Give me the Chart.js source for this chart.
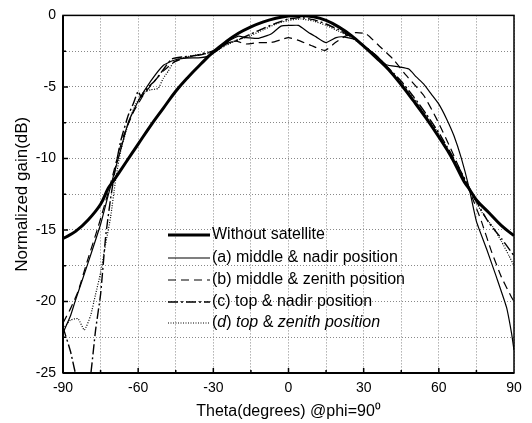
<!DOCTYPE html>
<html>
<head>
<meta charset="utf-8">
<script src="https://cdn.jsdelivr.net/npm/chart.js@4.4.0/dist/chart.umd.min.js"></script>
<style>
body { margin: 0; background: #fff; }
</style>
</head>
<body>
<canvas id="myChart" width="532" height="423"></canvas>
<script>
var seriesNames = [
    'Without satellite',
    '(a) middle & nadir position',
    '(b) middle & zenith position',
    '(c) top & nadir position',
    '(d) top & zenith position'
];

var thetaRef = [-90, -85, -80, -75, -72, -70, -65, -60, -55, -50, -45, -40, -35, -30, -25, -20, -15, -10, -5, 0, 5, 10, 15, 20, 25, 30, 35, 40, 45, 50, 55, 60, 65, 70, 72, 75, 80, 85, 90];
var gainRef = [-15.6, -15.1, -14.3, -13.2, -12.1, -11.6, -10.3, -9.0, -7.7, -6.5, -5.3, -4.3, -3.4, -2.55, -1.85, -1.25, -0.8, -0.45, -0.2, -0.05, 0, -0.1, -0.35, -0.8, -1.4, -2.15, -2.95, -3.8, -4.85, -6.0, -7.2, -8.5, -9.9, -11.6, -12.1, -12.9, -13.8, -14.7, -15.4];

var thetaA = [-90, -87, -85, -80, -75, -72, -70, -67, -64, -60, -55, -50, -46, -42, -35, -32, -28, -24, -20, -17, -12, -7, -3, 1, 4, 8, 11, 15, 19, 22, 27, 30, 35, 39, 44, 48, 51, 54, 57, 60, 63, 66, 69, 72, 75, 79, 83, 87, 89, 90];
var gainA = [-22.2, -21.0, -19.9, -17.3, -14.6, -12.6, -11.3, -9.4, -7.5, -6.0, -4.6, -3.5, -3.15, -3.0, -2.95, -2.85, -2.4, -1.8, -1.45, -1.55, -1.6, -1.3, -0.75, -0.7, -0.7, -1.2, -1.5, -1.9, -1.55, -1.5, -1.7, -2.1, -2.8, -3.45, -3.6, -3.75, -4.3, -4.8, -5.5, -6.2, -7.2, -8.4, -10.0, -12.0, -14.4, -16.3, -18.3, -20.4, -22.2, -23.4];

var thetaB = [-90, -87, -84, -80, -76, -72, -69, -66, -62, -58, -54, -50, -46, -42, -36, -32, -28, -24, -21, -17, -12, -7, -3, 0, 4, 9, 14.6, 18.7, 22.7, 26.8, 31, 36, 41.7, 47, 54, 59, 64.7, 70, 72.8, 77, 81, 85, 89, 90];
var gainB = [-21.5, -20.5, -19.3, -17.0, -14.8, -12.4, -10.4, -8.5, -6.8, -5.6, -4.7, -3.9, -3.3, -3.0, -2.8, -2.6, -2.3, -1.9, -1.8, -2.0, -1.9, -1.9, -1.7, -1.55, -1.75, -2.1, -2.45, -1.9, -1.45, -1.2, -1.3, -2.1, -3.05, -4.2, -5.6, -7.2, -9.3, -11.4, -12.5, -14.4, -16.5, -18.3, -19.7, -20.0];

var thetaC = [-90, -87, -84, -81, -79, -77, -75, -73, -71, -69, -67, -64, -62, -60, -58.8, -56, -53.5, -50, -46.7, -42, -37, -33, -29, -25, -20, -15, -10, -5, 0, 5, 10, 15, 20, 25, 30, 35, 40, 45, 50, 55, 60, 65, 70, 72, 75, 80, 85, 90];
var gainC = [-21.8, -23.5, -25.8, -27.0, -25.2, -22.0, -19.5, -15.5, -12.8, -10.6, -8.8, -7.0, -6.2, -5.3, -5.7, -5.0, -4.6, -3.8, -3.05, -2.9, -2.8, -2.6, -2.5, -2.0, -1.7, -1.3, -0.9, -0.55, -0.25, -0.15, -0.3, -0.6, -1.0, -1.5, -2.1, -2.8, -3.7, -4.6, -5.7, -6.9, -8.2, -9.7, -11.3, -12.0, -13.0, -14.5, -15.6, -16.8];

var thetaD = [-90, -87, -84, -81.5, -79, -77, -75, -73, -71, -69, -67, -64, -61, -58, -55, -52, -50, -48, -46, -43, -38, -34, -30, -25, -20, -15, -10, -5, 0, 5, 10, 15, 20, 25, 30, 35, 40, 45, 50, 55, 60, 65, 70, 72, 75, 78, 81.6, 85, 88, 90];
var gainD = [-21.9, -21.3, -21.2, -22.0, -21.0, -19.5, -18.0, -16.0, -14.1, -11.5, -9.5, -7.6, -6.2, -5.4, -5.2, -5.1, -4.4, -3.9, -3.3, -3.0, -2.8, -2.7, -2.6, -2.1, -1.7, -1.4, -1.0, -0.6, -0.35, -0.25, -0.4, -0.7, -1.1, -1.55, -2.15, -2.85, -3.75, -4.7, -5.8, -7.0, -8.3, -9.8, -11.4, -12.0, -13.1, -14.0, -14.8, -15.8, -16.8, -17.5];

var xTicks = [-90, -60, -30, 0, 30, 60, 90];
var yTicks = [-25, -20, -15, -10, -5, 0];

var lineWidths = [3, 1.2, 1.2, 1.4, 1.2];
var lineDashes = [[], [], [8, 5], [10, 3, 2, 3], [1, 1.5]];

function pairs(xs, ys) {
    return xs.map(function (t, i) { return {x: t, y: ys[i]}; });
}

var allData = [
    pairs(thetaRef, gainRef),
    pairs(thetaA, gainA),
    pairs(thetaB, gainB),
    pairs(thetaC, gainC),
    pairs(thetaD, gainD)
];

var datasets = allData.map(function (d, i) {
    return {
        label: seriesNames[i],
        data: d,
        borderColor: '#000',
        borderWidth: lineWidths[i],
        borderDash: lineDashes[i],
        pointRadius: 0,
        fill: false,
        tension: i === 0 ? 0.4 : 0.15
    };
});

// legend drawn inside the plot, with line samples and partly italic text
var legendInside = {
    id: 'legendInside',
    afterDraw: function (chart) {
        var ctx = chart.ctx;
        var rows = [235, 258, 280, 302, 323];
        ctx.save();
        chart.data.datasets.forEach(function (ds, i) {
            var y = rows[i];
            ctx.beginPath();
            ctx.strokeStyle = '#000';
            ctx.lineWidth = ds.borderWidth;
            ctx.setLineDash(ds.borderDash);
            ctx.moveTo(168, y);
            ctx.lineTo(210, y);
            ctx.stroke();
            ctx.setLineDash([]);
            ctx.fillStyle = '#000';
            ctx.textBaseline = 'middle';
            var parts;
            if (i === 4) {
                parts = [['(', false], ['d', true], [') ', false], ['top', true], [' & ', false], ['zenith position', true]];
            } else {
                parts = [[ds.label, false]];
            }
            var x = 212;
            parts.forEach(function (p) {
                ctx.font = (p[1] ? 'italic ' : '') + '16px "Liberation Sans", Arial, sans-serif';
                ctx.fillText(p[0], x, y);
                x += ctx.measureText(p[0]).width;
            });
        });
        ctx.restore();
    }
};

// frame round the plot and small inward tick marks
var frame = {
    id: 'frame',
    afterDatasetsDraw: function (chart) {
        var a = chart.chartArea;
        var ctx = chart.ctx;
        var xs = chart.scales.x;
        var ys = chart.scales.y;
        ctx.save();
        ctx.strokeStyle = '#000';
        ctx.lineWidth = 1.5;
        ctx.strokeRect(a.left, a.top, a.right - a.left, a.bottom - a.top);
        ctx.lineWidth = 2;
        ctx.beginPath();
        ctx.moveTo(a.left, a.bottom);
        ctx.lineTo(a.right, a.bottom);
        ctx.moveTo(a.left, a.top);
        ctx.lineTo(a.left, a.bottom);
        ctx.stroke();
        ctx.lineWidth = 1.5;
        ctx.beginPath();
        for (var t = -75; t < 90; t += 15) {
            var px = xs.getPixelForValue(t);
            var len = (t % 30 === 0) ? 5 : 3;
            ctx.moveTo(px, a.bottom);
            ctx.lineTo(px, a.bottom - len);
        }
        for (var g = -22.5; g < 0; g += 2.5) {
            var py = ys.getPixelForValue(g);
            var len2 = (g % 5 === 0) ? 5 : 3;
            ctx.moveTo(a.left, py);
            ctx.lineTo(a.left + len2, py);
        }
        ctx.stroke();
        ctx.restore();
    }
};

var ctx = document.getElementById('myChart').getContext('2d');
var chart = new Chart(ctx, {
    type: 'line',
    data: {datasets: datasets},
    plugins: [frame, legendInside],
    options: {
        responsive: false,
        animation: false,
        devicePixelRatio: 1,
        layout: {padding: {top: 13, right: 18, left: 0, bottom: 0}},
        plugins: {legend: {display: false}, tooltip: {enabled: false}},
        scales: {
            x: {
                type: 'linear',
                min: -90,
                max: 90,
                afterFit: function (s) { s.height = 50; },
                ticks: {
                    stepSize: 15,
                    padding: 7,
                    color: '#000',
                    font: {size: 14, family: '"Liberation Sans", Arial, sans-serif'},
                    callback: function (v) { return xTicks.indexOf(v) >= 0 ? String(v) : ''; },
                    maxRotation: 0,
                    autoSkip: false
                },
                grid: {color: '#888', lineWidth: 1, drawTicks: false},
                border: {display: false, dash: [1, 2]},
                title: {
                    display: true,
                    text: 'Theta(degrees) @phi=90\u2070',
                    color: '#000',
                    padding: {top: 0, bottom: 2},
                    font: {size: 16, family: '"Liberation Sans", Arial, sans-serif'}
                }
            },
            y: {
                min: -25,
                max: 0,
                afterFit: function (s) { s.width = 63; },
                ticks: {
                    stepSize: 2.5,
                    padding: 7,
                    color: '#000',
                    font: {size: 14, family: '"Liberation Sans", Arial, sans-serif'},
                    callback: function (v) { return yTicks.indexOf(v) >= 0 ? String(v) : ''; },
                    autoSkip: false
                },
                grid: {color: '#888', lineWidth: 1, drawTicks: false},
                border: {display: false, dash: [1, 2]},
                title: {
                    display: true,
                    text: 'Normalized gain(dB)',
                    color: '#000',
                    padding: {top: 12, bottom: 0},
                    font: {size: 17, family: '"Liberation Sans", Arial, sans-serif'}
                }
            }
        }
    }
});
</script>
</body>
</html>
